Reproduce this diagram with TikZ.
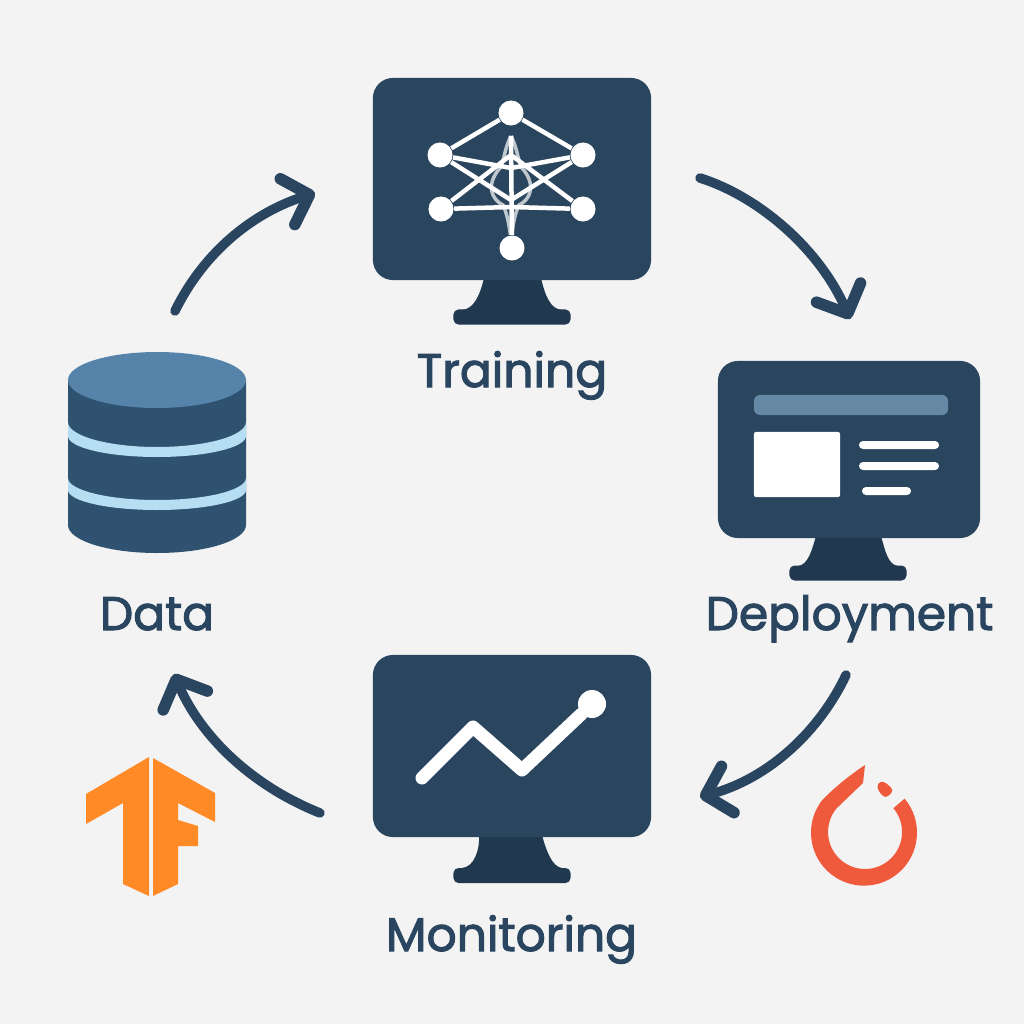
\documentclass[tikz,border=0pt]{standalone}
\usepackage{fontspec}
\usetikzlibrary{arrows.meta}
\newfontfamily\labelfont{Poppins}[RawFeature={embolden=2.2}]
\definecolor{pagebg}{HTML}{F3F3F3}
\definecolor{screenblue}{HTML}{2A455E}
\definecolor{standblue}{HTML}{20394F}
\definecolor{textblue}{HTML}{2A4560}
\definecolor{drumside}{HTML}{2F5270}
\definecolor{drumtop}{HTML}{5583AA}
\definecolor{drumband}{HTML}{B5DEF2}
\definecolor{barblue}{HTML}{6589A5}
\definecolor{tforange}{HTML}{FF8A26}
\definecolor{ptred}{HTML}{F05A3C}
\tikzset{
  screen/.style={fill=screenblue,rounded corners=0.2cm,inner sep=0pt},
  foot/.style={fill=standblue,rounded corners=0.05cm,inner sep=0pt,minimum width=1.17cm,minimum height=0.15cm},
  neuron/.style={circle,fill=white,inner sep=0pt,minimum size=0.25cm},
  synapse/.style={draw=white,line width=0.045cm},
  faint/.style={draw=white!70!screenblue,line width=0.035cm},
  textline/.style={fill=white,rounded corners=0.04cm,inner sep=0pt,minimum height=0.08cm},
  flow/.style={draw=textblue,line width=0.095cm,line cap=round,-{Straight Barb[length=2.3mm,width=4.8mm,round,line width=0.115cm]}},
  caption/.style={text=textblue,anchor=base,inner sep=0pt,font=\labelfont\fontsize{13.4}{16}\selectfont},
}
\begin{document}
\begin{tikzpicture}[x=0.01cm,y=-0.01cm]

      \fill[pagebg] (0,0) rectangle (1024,1024);

      % training monitor
      \fill[standblue] (484,278) .. controls (480,295) and (474,309) .. (462,310) -- (562,310) .. controls (550,309) and (545,295) .. (541,278) -- cycle;
      \node[foot] (trainfoot) at (512,317){};
      \node[screen,minimum width=2.78cm,minimum height=2.02cm] (train) at (512,179){};

      \node[neuron] (ntop) at (511,113){};
      \node[neuron] (nul) at (440,155){};
      \node[neuron] (nur) at (583,155){};
      \node[neuron] (nll) at (441,209){};
      \node[neuron] (nlr) at (583,209){};
      \node[neuron] (nbot) at (512,248){};
      \coordinate (apex) at (511,136);
      \coordinate (zenith) at (511,155);
      \coordinate (core) at (511,168);
      \coordinate (nadir) at (511,200);
      \coordinate (waist) at (511,207);

      \draw[faint] (apex) .. controls (504,150) and (505,158) .. (500,168) .. controls (485,185) and (492,200) .. (503,205) .. controls (508,215) and (510,232) .. (nbot);
      \draw[faint] (apex) .. controls (518,150) and (517,158) .. (522,168) .. controls (537,185) and (530,200) .. (519,205) .. controls (514,215) and (512,232) .. (nbot);
      \draw[synapse] (ntop) -- (nul);
      \draw[synapse] (ntop) -- (nur);
      \draw[synapse] (nul) -- (core);
      \draw[synapse] (nur) -- (core);
      \draw[synapse] (nul) -- (nadir);
      \draw[synapse] (nur) -- (nadir);
      \draw[synapse] (nll) -- (zenith);
      \draw[synapse] (nlr) -- (zenith);
      \draw[synapse] (nll) -- (waist);
      \draw[synapse] (nlr) -- (waist);
      \draw[synapse] (apex) -- (nbot);

      \node[caption] (traintext) at (512,387){Training};

      % deployment monitor
      \fill[standblue] (816,536) .. controls (812,550) and (808,565) .. (798,566) -- (898,566) .. controls (888,565) and (885,550) .. (881,536) -- cycle;
      \node[foot] (deployfoot) at (848,573){};
      \node[screen,minimum width=2.62cm,minimum height=1.77cm] (deploy) at (849,449.5){};

      \node[fill=barblue,rounded corners=0.06cm,inner sep=0pt,minimum width=1.94cm,minimum height=0.2cm] (topbar) at (851,405){};
      \node[fill=white,rounded corners=0.02cm,inner sep=0pt,minimum width=0.86cm,minimum height=0.65cm] (pane) at (797,464.5){};
      \node[textline,minimum width=0.8cm] (lineone) at (899,445){};
      \node[textline,minimum width=0.8cm] (linetwo) at (899,466){};
      \node[textline,minimum width=0.49cm] (linethree) at (886.5,491){};

      \node[caption] (deploytext) at (849.5,630){Deployment};

      % monitoring monitor
      \fill[standblue] (479,835) .. controls (480,850) and (474,867) .. (462,868) -- (562,868) .. controls (552,867) and (546,850) .. (542,835) -- cycle;
      \node[foot] (monitorfoot) at (512,875.5){};
      \node[screen,minimum width=2.78cm,minimum height=1.82cm] (monitor) at (512,746){};

      \coordinate (pone) at (422,778);
      \coordinate (ptwo) at (473,727);
      \coordinate (pthree) at (522,770);
      \node[circle,fill=white,inner sep=0pt,minimum size=0.28cm] (pfour) at (592,704){};
      \draw[white,line width=0.13cm,line cap=round,line join=round] (pone) -- (ptwo) -- (pthree) -- (pfour);

      \node[caption] (monitortext) at (511.5,951){Monitoring};

      % data drum
      \fill[drumside] (68,380) -- (68,525) arc[start angle=180,end angle=0,x radius=89,y radius=28] -- (246,380) -- cycle;
      \fill[drumband] (68,422) arc[start angle=180,end angle=0,x radius=89,y radius=25] -- (246,436) arc[start angle=0,end angle=180,x radius=89,y radius=21] -- cycle;
      \fill[drumband] (68,478) arc[start angle=180,end angle=0,x radius=89,y radius=22] -- (246,490) arc[start angle=0,end angle=180,x radius=89,y radius=20] -- cycle;
      \fill[drumtop] (157,380) ellipse [x radius=89,y radius=28];
      \node[caption] (datatext) at (157,630){Data};

      % tensorflow logo
      \fill[tforange] (149,757) -- (86,794) -- (86,824) -- (123,803) -- (123,884) -- (149,896) -- cycle;
      \fill[tforange] (153,758) -- (215,793) -- (215,822) -- (178,803) -- (178,820) -- (198,826) -- (198,846) -- (178,846) -- (178,884) -- (153,896) -- cycle;

      % pytorch logo
      \fill[ptred] (865,765) -- (863,783) -- (836.7,808.2) arc[start angle=220,end angle=-40,radius=37] -- (904.6,798.6) arc[start angle=-40,end angle=218,radius=53] .. controls (835,787) and (850,775) .. (865,765) -- cycle;
      \fill[ptred,rounded corners=0.04cm] (877,783) -- (884,781) -- (894,790.5) -- (885.5,798.5) -- (878,791) -- cycle;

      % arrows between the stages
      \coordinate (datastart) at (175,311);
      \coordinate (trainend) at (315,193);
      \coordinate (trainstart) at (700,178);
      \coordinate (deployend) at (850,319);
      \coordinate (deploystart) at (846,675);
      \coordinate (monitorend) at (700,797);
      \coordinate (monitorstart) at (320,813);
      \coordinate (dataend) at (174,674);

      \draw[flow] (datastart) .. controls (205,250) and (255,212) .. (trainend);
      \draw[flow] (trainstart) .. controls (760,197) and (820,250) .. (deployend);
      \draw[flow] (deploystart) .. controls (820,730) and (770,778) .. (monitorend);
      \draw[flow] (monitorstart) .. controls (250,785) and (200,735) .. (dataend);

    \end{tikzpicture}
\end{document}
